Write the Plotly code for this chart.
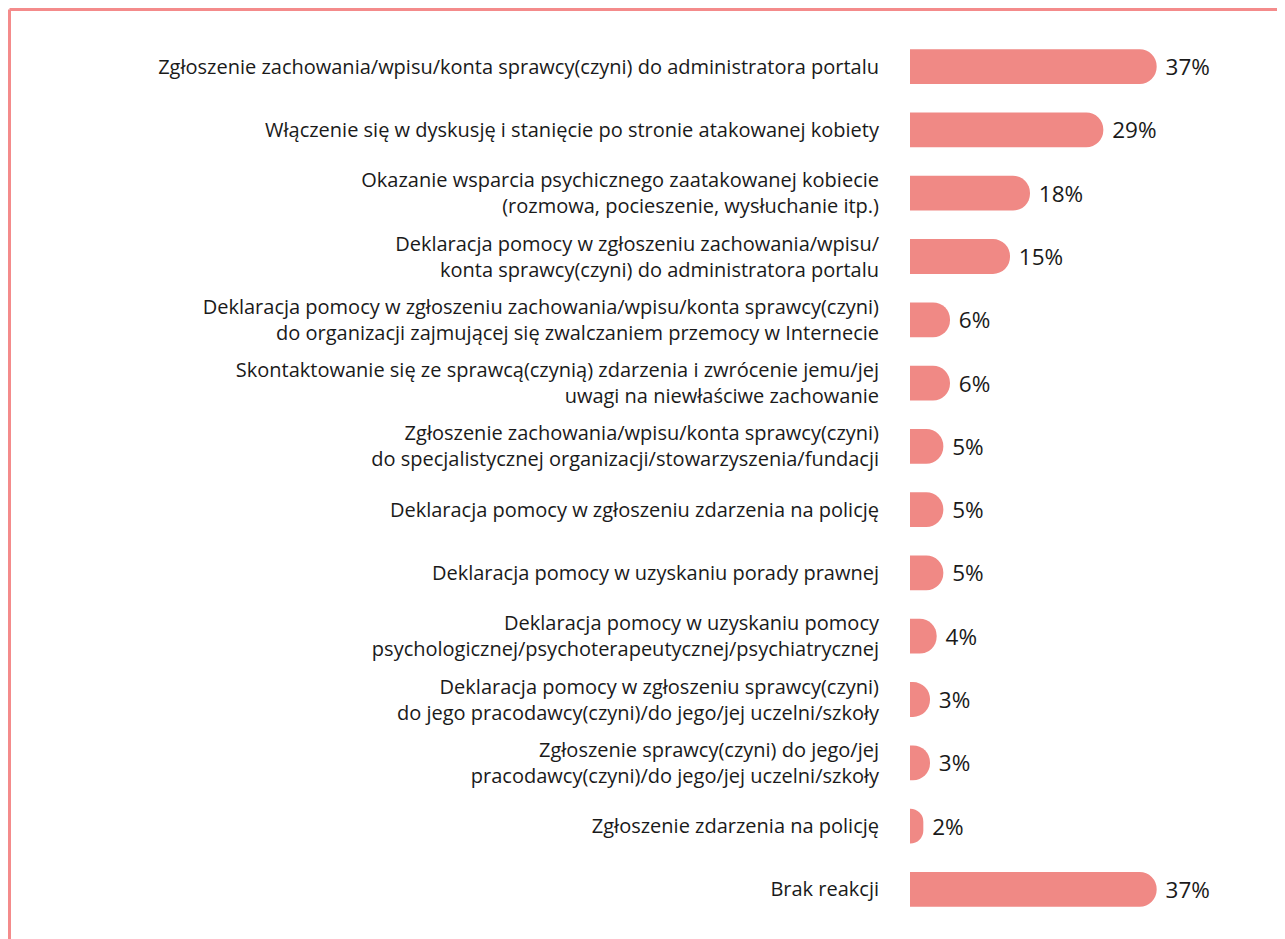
import plotly.graph_objects as go

categories = [
    "Zgłoszenie zachowania/wpisu/konta sprawcy(czyni) do administratora portalu",
    "Włączenie się w dyskusję i stanięcie po stronie atakowanej kobiety",
    "Okazanie wsparcia psychicznego zaatakowanej kobiecie<br>(rozmowa, pocieszenie, wysłuchanie itp.)",
    "Deklaracja pomocy w zgłoszeniu zachowania/wpisu/<br>konta sprawcy(czyni) do administratora portalu",
    "Deklaracja pomocy w zgłoszeniu zachowania/wpisu/konta sprawcy(czyni)<br>do organizacji zajmującej się zwalczaniem przemocy w Internecie",
    "Skontaktowanie się ze sprawcą(czynią) zdarzenia i zwrócenie jemu/jej<br>uwagi na niewłaściwe zachowanie",
    "Zgłoszenie zachowania/wpisu/konta sprawcy(czyni)<br>do specjalistycznej organizacji/stowarzyszenia/fundacji",
    "Deklaracja pomocy w zgłoszeniu zdarzenia na policję",
    "Deklaracja pomocy w uzyskaniu porady prawnej",
    "Deklaracja pomocy w uzyskaniu pomocy<br>psychologicznej/psychoterapeutycznej/psychiatrycznej",
    "Deklaracja pomocy w zgłoszeniu sprawcy(czyni)<br>do jego pracodawcy(czyni)/do jego/jej uczelni/szkoły",
    "Zgłoszenie sprawcy(czyni) do jego/jej<br>pracodawcy(czyni)/do jego/jej uczelni/szkoły",
    "Zgłoszenie zdarzenia na policję",
    "Brak reakcji",
]
values = [37, 29, 18, 15, 6, 6, 5, 5, 5, 4, 3, 3, 2, 37]

BAR = "#F08985"
BORDER = "#F48B8B"
INK = "#1a1a1a"
FONT = "Open Sans"

# figure is drawn inside the page's 8px body margin
W, H = 1277, 931
L, R, T, B = 902, 75, 27, 18
plot_w = W - L - R
plot_h = H - T - B

fig = go.Figure()
fig.add_trace(go.Bar(
    y=categories,
    x=values,
    orientation="h",
    marker=dict(color=BAR, cornerradius=17, line=dict(width=0)),
    texttemplate=" %{x}%",
    textposition="outside",
    textfont=dict(family=FONT, size=22.5, color=INK),
    cliponaxis=False,
))

# pink frame along the top and left edge
fx = (1.5 - L) / plot_w
fy = 1 + (T - 1.5) / plot_h
fig.add_shape(type="line", xref="paper", yref="paper",
              x0=fx, x1=1.5, y0=fy, y1=fy,
              line=dict(color=BORDER, width=3))
fig.add_shape(type="line", xref="paper", yref="paper",
              x0=fx, x1=fx, y0=-0.1, y1=fy,
              line=dict(color=BORDER, width=3))

fig.update_layout(
    width=W, height=H,
    margin=dict(l=L, r=R, t=T, b=B),
    plot_bgcolor="white", paper_bgcolor="white",
    bargap=0.45,
    showlegend=False,
    font=dict(family=FONT, size=20, color=INK),
)
fig.update_xaxes(range=[0, 45], visible=False)
fig.update_yaxes(autorange="reversed", showgrid=False, showline=False,
                 ticks="", ticklabelstandoff=30,
                 tickfont=dict(family=FONT, size=20, color=INK))

fig.write_html("out.html")
